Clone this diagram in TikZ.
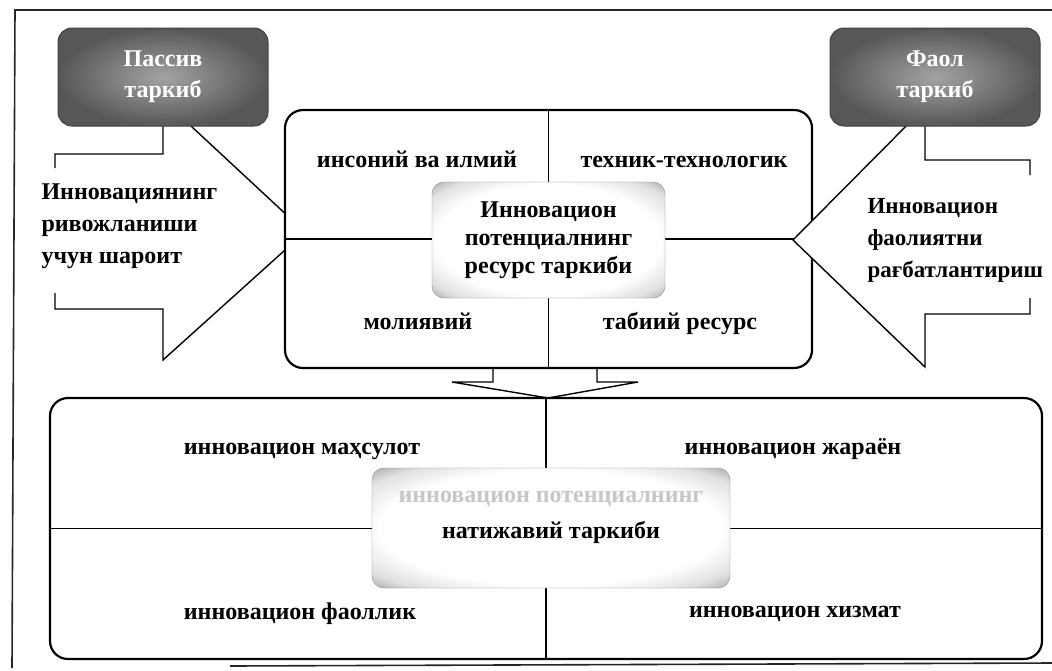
\documentclass[tikz,border=0pt]{standalone}
\usepackage{fontspec}
\setmainfont{Liberation Serif}
\pgfdeclareradialshading{rimglow}{\pgfpoint{0bp}{0bp}}{color(0bp)=(white); color(24bp)=(white); color(31bp)=(black!12); color(37bp)=(black!40); color(50bp)=(black!58)}

\begin{document}
\begin{tikzpicture}
[
    x=1pt, y=-1pt,
    every node/.style={font=\bfseries\fontsize{24}{32}\selectfont},
    frame line/.style={line width=1.6pt, black!85},
    part box/.style={draw, line width=2.2pt, rounded corners=18pt, fill=white, inner sep=0pt},
    split line/.style={line width=1.8pt},
    cell text/.style={anchor=base},
    grey box/.style={shade, inner color=black!36, outer color=black!66, draw=black!75, line width=1pt, rounded corners=14pt, minimum width=210pt, minimum height=98pt, text=white, align=center, font=\bfseries\fontsize{24}{31}\selectfont},
    glow box/.style={shade, shading=rimglow, draw=black!45, rounded corners=12pt, align=center, inner sep=0pt},
    block arrow/.style={draw, line width=1.4pt, fill=white, line join=miter},
]
\useasboundingbox (0,0) rectangle (1052,670);
\draw[frame line] (1052,10) -- (15,10) -- (12,668);
\draw[frame line] (230,666) -- (1052,663);

\draw[block arrow] (55,168) -- (55,154) -- (163,154) -- (163,100) -- (305,232) -- (163,360) -- (163,309) -- (55,309) -- (55,293);
\node[grey box] (passive) at (163,77) {Пассив\\таркиб};

\node[part box, minimum width=527pt, minimum height=258pt] (resource) at (548.5,239) {};
\draw[split line] (resource.north) -- (resource.south);
\draw[split line] (resource.west) -- (resource.east);
\node[glow box, minimum width=233pt, minimum height=116pt, font=\bfseries\fontsize{24}{28}\selectfont] (rescore) at (548.5,240) {Инновацион\\потенциалнинг\\ресурс таркиби};

\draw[block arrow] (1030,175) -- (1030,160) -- (925,160) -- (925,107) -- (793,240) -- (925,367) -- (925,314) -- (1030,314) -- (1030,298);
\node[grey box] (active) at (935,77) {Фаол\\таркиб};

\node[cell text] (human) at (417,167) {инсоний ва илмий};
\node[cell text] (tech) at (684,167) {техник-технологик};
\node[cell text] (finance) at (418,329) {молиявий};
\node[cell text] (nature) at (680,329) {табиий ресурс};

\node[anchor=west, align=left] (cond) at (38,226) {Инновациянинг\\ривожланиши\\учун шароит};
\node[anchor=west, align=left, font=\bfseries\fontsize{23}{32}\selectfont] (stim) at (864,240) {Инновацион\\фаолиятни\\рағбатлантириш};

\node[part box, minimum width=992pt, minimum height=261pt] (result) at (546,528.5) {};
\draw[split line] (result.north) -- (result.south);
\draw[split line] (result.west) -- (result.east);
\node[glow box, minimum width=358pt, minimum height=120pt] (rescore2) at (551,528) {};
\node[cell text, text=black!22] (faint) at (551,502) {инновацион потенциалнинг};
\node[cell text] (outcome) at (551,538) {натижавий таркиби};

\draw[block arrow, fill=none] (493,369) -- (493,382) -- (452,382) -- (548,398) -- (638,382) -- (597,382) -- (597,369);

\node[cell text] (product) at (302,454) {инновацион маҳсулот};
\node[cell text] (process) at (793,454) {инновацион жараён};
\node[cell text] (activity) at (300,619) {инновацион фаоллик};
\node[cell text] (service) at (795,617) {инновацион хизмат};
\end{tikzpicture}
\end{document}
